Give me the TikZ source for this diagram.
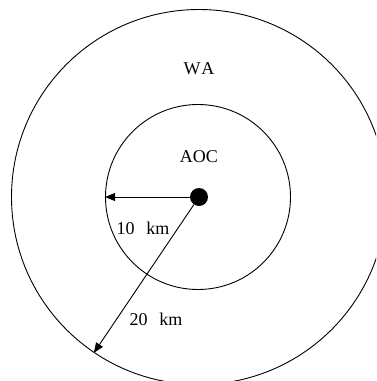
\documentclass[tikz,border=0pt]{standalone}
\usepackage{fontspec}
\setmainfont{Liberation Serif}
\usetikzlibrary{arrows.meta,positioning}

\begin{document}
\begin{tikzpicture}[x=1pt,y=-1pt,
ring/.style={circle,draw,line width=0.9pt,inner sep=0pt},
lbl/.style={font=\fontsize{18}{20}\selectfont},
arr/.style={line width=0.9pt,-{Triangle[length=10pt,width=8pt]}}]
\useasboundingbox (0,0) rectangle (376,381);
\clip (0,0) rectangle (376,381);
\node[ring,minimum size=375pt] (wa) at (199,197) {};
\node[ring,minimum size=185pt] (aoc) at (198,197) {};
\node[circle,fill,inner sep=0pt,minimum size=18pt] (c) at (199,197) {};
\node[lbl] (walbl) at (199,69) {W\kern1pt A};
\node[lbl] (aoclbl) at (199,157) {AOC};
\node[lbl] (r10) at (143,228) {10\hspace{0.65em}km};
\node[lbl] (r20) at (156,319) {20\hspace{0.65em}km};
\draw[arr] (c.west)--(aoc.west);
\draw[arr] (c.236.5)--(wa.236.5);
\end{tikzpicture}
\end{document}
